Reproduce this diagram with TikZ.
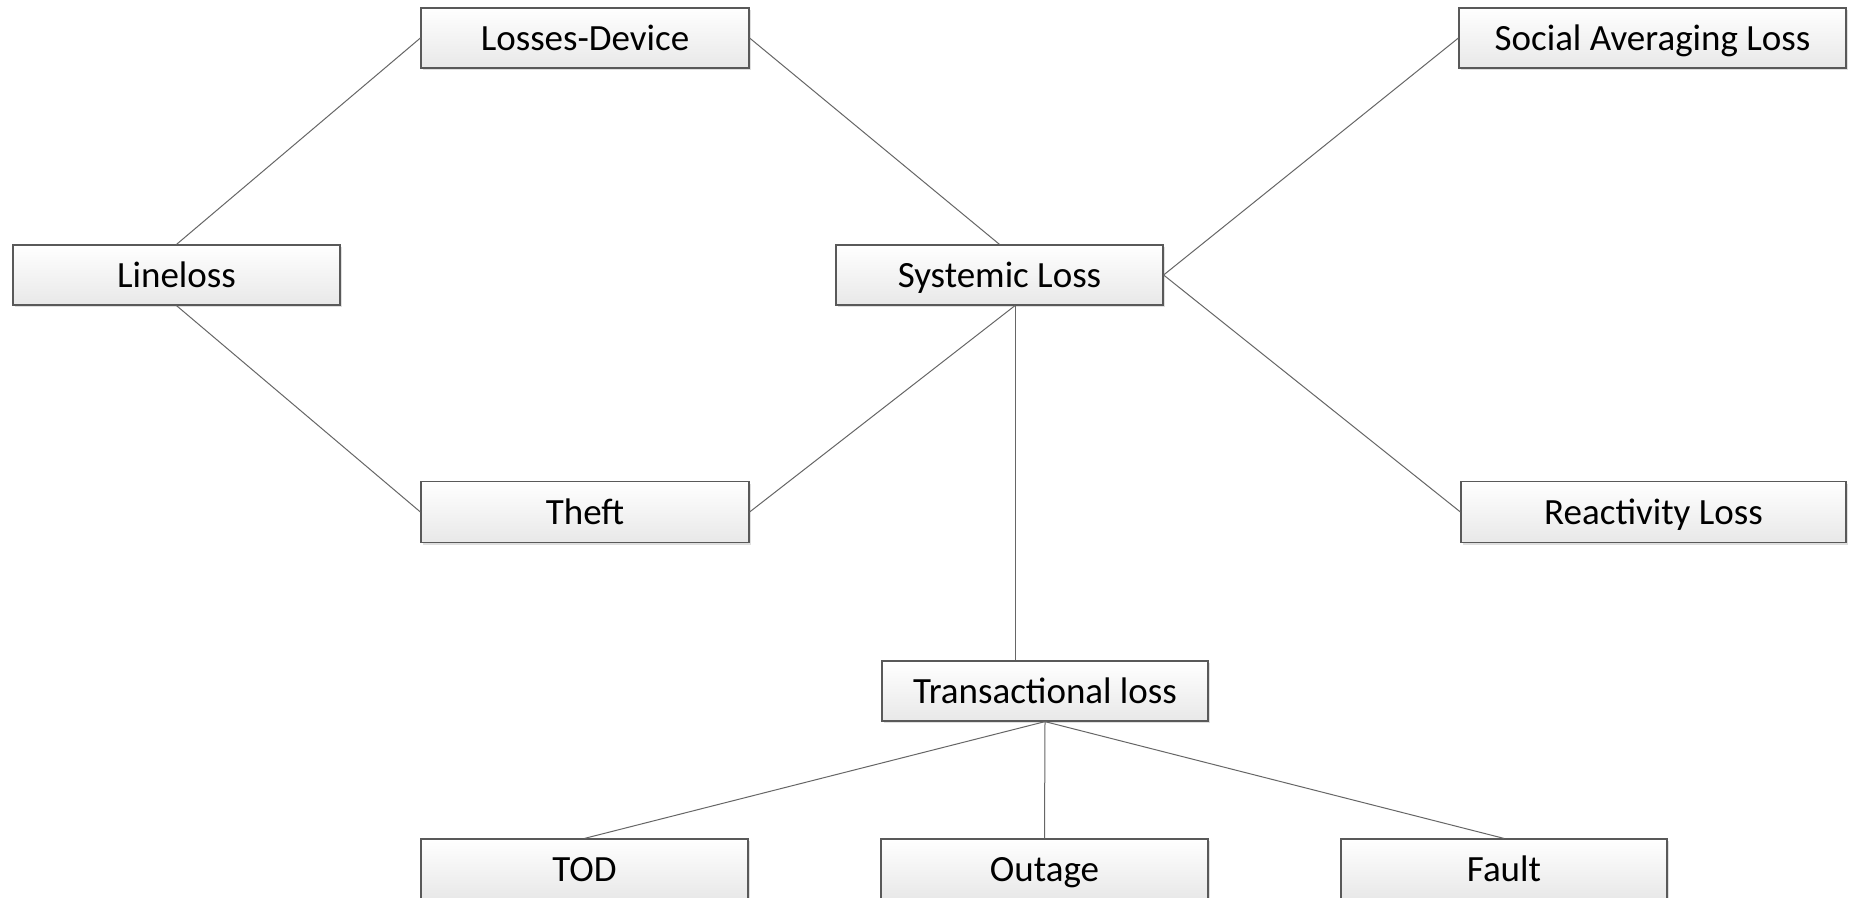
\documentclass[tikz,border=0pt]{standalone}
\usepackage{fontspec}
\setmainfont{Carlito}
\usetikzlibrary{shadows}
\begin{document}
\begin{tikzpicture}[x=1pt,y=-1pt,
  box/.style={draw=black!65, line width=1.2pt, top color=white, bottom color=black!9,
    minimum height=60pt, inner sep=0pt, text height=27pt, text depth=3pt,
    font=\fontsize{37}{44}\selectfont,
    drop shadow={shadow xshift=2pt, shadow yshift=-2pt, opacity=0.25, fill=black!50}},
  conn/.style={draw=black!60, line width=1pt}]
\useasboundingbox (0,0) rectangle (1850,897);
\fill[white] (0,0) rectangle (1850,897);
\node[box, minimum width=328pt] (ld) at (585,38) {Losses-Device};
\node[box, minimum width=387pt] (soc) at (1652.5,38) {Social Averaging Loss};
\node[box, minimum width=327pt] (line) at (176.5,275) {Lineloss};
\node[box, minimum width=327pt] (sys) at (999.5,275) {Systemic Loss};
\node[box, minimum width=328pt, minimum height=61pt] (theft) at (585,512) {Theft};
\node[box, minimum width=385pt, minimum height=61pt] (react) at (1653.5,512) {Reactivity Loss};
\node[box, minimum width=326pt] (trans) at (1045,691) {Transactional loss};
\node[box, minimum width=327pt] (tod) at (584.5,869) {TOD};
\node[box, minimum width=327pt] (out) at (1044.5,869) {Outage};
\node[box, minimum width=326pt] (fault) at (1504,869) {Fault};
\coordinate (sysb) at ([xshift=15.5pt]sys.south);
\coordinate (transt) at ([xshift=-30pt]trans.north);
\draw[conn] (line.north) -- (ld.west);
\draw[conn] (line.south) -- (theft.west);
\draw[conn] (ld.east) -- (sys.north);
\draw[conn] (theft.east) -- (sysb);
\draw[conn] (sys.east) -- (soc.west);
\draw[conn] (sys.east) -- (react.west);
\draw[conn] (sysb) -- (transt);
\draw[conn] (trans.south) -- (tod.north);
\draw[conn] (trans.south) -- (out.north);
\draw[conn] (trans.south) -- (fault.north);
\end{tikzpicture}
\end{document}
